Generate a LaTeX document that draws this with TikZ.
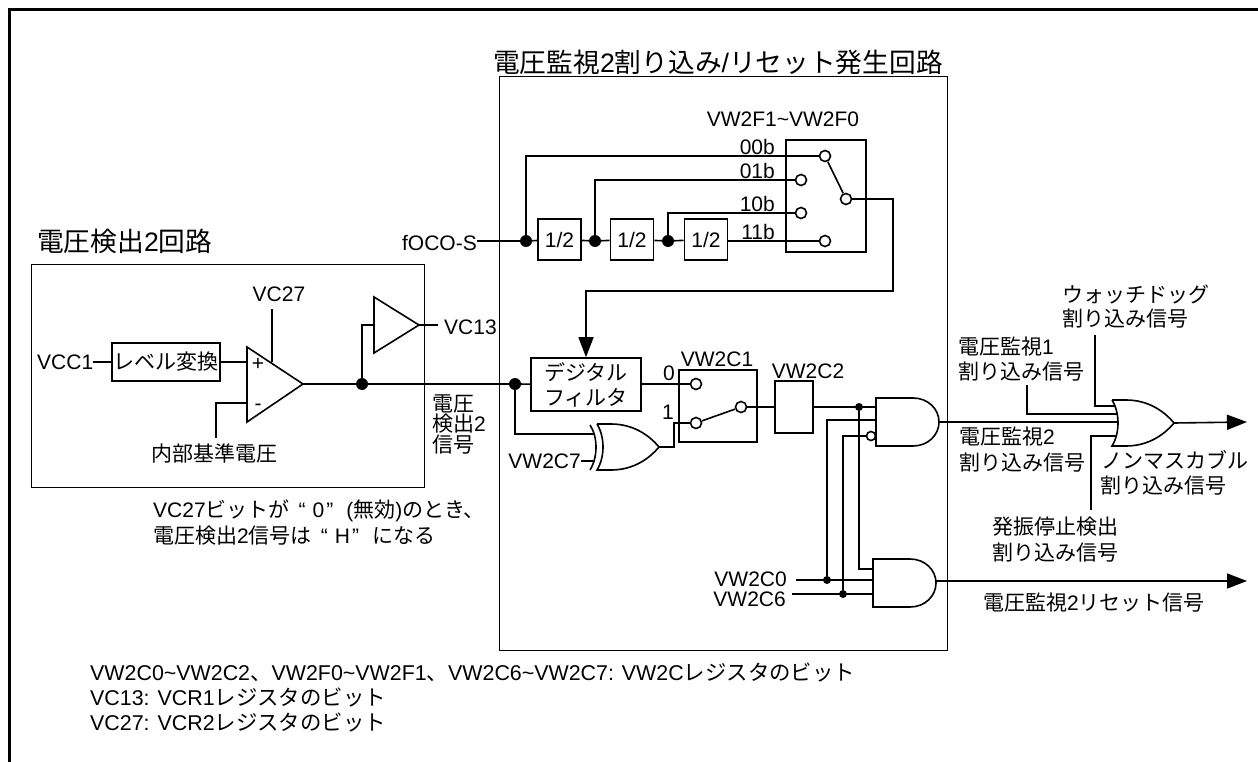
\documentclass[tikz,border=0pt]{standalone}
\usepackage{fontspec}
\setmainfont{Liberation Sans}
\newfontfamily\cjk{Noto Sans CJK JP}
\usetikzlibrary{arrows.meta}
\newcommand{\jp}[1]{{\cjk #1}}
\newcommand{\tld}{\textasciitilde}
\newcommand{\qt}[1]{\hspace{9pt}“\hspace{7pt}#1\hspace{2pt}”\hspace{13pt}}
\tikzset{
  lbl/.style={inner sep=0pt, font=\fontsize{21}{25}\selectfont, align=left},
  notelbl/.style={inner sep=0pt, font=\fontsize{21.4}{25}\selectfont},
  ttl/.style={inner sep=0pt, font=\fontsize{26.7}{31}\selectfont},
  wire/.style={line width=1.6pt},
  thinbox/.style={draw, line width=1pt, inner sep=0pt},
  logicbox/.style={draw, line width=1.6pt, inner sep=0pt, font=\fontsize{21}{25}\selectfont, align=center},
  blackdot/.style={circle, fill=black, inner sep=0pt, minimum size=#1},
  blackdot/.default=12pt,
  contact/.style={circle, draw, line width=1.6pt, fill=white, inner sep=0pt, minimum size=11pt},
  bigarrow/.style={-{Triangle[length=20pt,width=15pt]}},
  andgate/.pic={
    \draw[wire] (0,-24) -- (37,-24) .. controls (52,-24) and (63,-13) .. (63,0)
      .. controls (63,13) and (52,24) .. (37,24) -- (0,24) -- cycle;
    \coordinate (-out) at (63,0);
  },
  orgate/.pic={
    \draw[wire] (0,-23) -- (14,-23) .. controls (36,-23) and (52,-12) .. (62,0)
      .. controls (52,12) and (36,23) .. (14,23) -- (0,23)
      .. controls (8,10) and (8,-10) .. (0,-23);
    \coordinate (-out) at (62,0);
  }
}

\begin{document}
\begin{tikzpicture}[x=1pt, y=-1pt]
\useasboundingbox (0,0) rectangle (1258,762);
\draw[line width=3pt] (9.5,762) -- (9.5,9.5) -- (1258,9.5);
% enclosing blocks
\node[thinbox, minimum width=393pt, minimum height=223pt] (detbox) at (227.5,375.5) {};
\node[thinbox, minimum width=448pt, minimum height=573pt] (monbox) at (723,363.5) {};
\node[ttl, anchor=west] (dettitle) at (37,241) {\jp{電圧検出}2\jp{回路}};
\node[ttl] (montitle) at (718,62) {\jp{電圧監視}2\jp{割り込み}/\jp{リセット発生回路}};

% voltage detection circuit
\node[lbl, anchor=west] (vcc) at (37,362) {VCC1};
\node[logicbox, minimum width=108pt, minimum height=38pt] (level) at (166,362) {\jp{レベル変換}};
\draw[wire] (247,347) -- (303,384) -- (247,422) -- cycle;
\coordinate (opplus) at (247,362);
\coordinate (opminus) at (247,403);
\coordinate (opout) at (303,384);
\coordinate (optop) at (272,362);
\node[lbl] (plus) at (258,364) {+};
\node[lbl] (minus) at (258,407) {-};
\node[lbl] (vc27) at (279,294) {VC27};
\coordinate (vc27end) at (272,309);
\node[lbl] (refv) at (214,453) {\jp{内部基準電圧}};
\coordinate (refend) at (216,438);
\node[blackdot] (opdot) at (362,384) {};
\draw[wire] (374,297) -- (419,325) -- (374,353) -- cycle;
\coordinate (bufin) at (374,325);
\coordinate (bufout) at (419,325);
\coordinate (vc13end) at (438,325);
\node[lbl, anchor=west] (vc13) at (444,327) {VC13};
\node[lbl, anchor=west, font=\fontsize{21}{20.5}\selectfont] (detsig) at (432,424) {\jp{電圧}\\\jp{検出}2\\\jp{信号}};
\draw[wire] (vcc.east) -- (level.west);
\draw[wire] (level.east) -- (opplus);
\draw[wire] (vc27end) -- (optop);
\draw[wire] (opminus) -| (refend);
\draw[wire] (opout) -- (opdot);
\draw[wire] (opdot) |- (bufin);
\draw[wire] (bufout) -- (vc13end);
\node[lbl, anchor=west, font=\fontsize{21}{26}\selectfont] (detnote) at (153,523) {VC27\jp{ビットが}\qt{0}(\jp{無効})\jp{のとき、}\\\jp{電圧検出}2\jp{信号は}\qt{H}\jp{になる}};

% clock divider and selector
\node[lbl, anchor=east] (foco) at (477,243) {fOCO-S};
\node[blackdot] (clk0) at (526,241) {};
\node[logicbox, minimum width=43pt, minimum height=41pt] (div1) at (559.5,239.5) {1/2};
\node[blackdot] (clk1) at (595,241) {};
\node[logicbox, minimum width=43pt, minimum height=41pt] (div2) at (632,239.5) {1/2};
\node[blackdot] (clk2) at (668,241) {};
\node[logicbox, minimum width=43pt, minimum height=41pt] (div3) at (706,239.5) {1/2};
\node[thinbox, line width=1.6pt, minimum width=80pt, minimum height=112pt] (selbox) at (826,196) {};
\node[contact] (sel0) at (825,156) {};
\node[contact] (sel1) at (801,180) {};
\node[contact] (sel2) at (801,213) {};
\node[contact] (sel3) at (825,241) {};
\node[contact] (selout) at (846,199) {};
\node[lbl] (fsel) at (783,119) {VW2F1\tld VW2F0};
\node[lbl, anchor=east] (b00) at (775,147) {00b};
\node[lbl, anchor=east] (b01) at (775,171) {01b};
\node[lbl, anchor=east] (b10) at (775,204) {10b};
\node[lbl, anchor=east] (b11) at (775,232) {11b};
\draw[wire] (foco.east |- clk0) -- (clk0);
\draw[wire] (clk0) -- (div1);
\draw[wire] (div1) -- (clk1);
\draw[wire] (clk1) -- (div2);
\draw[wire] (div2) -- (clk2);
\draw[wire] (clk2) -- (div3);
\draw[wire] (div3.east |- sel3) -- (sel3);
\draw[wire] (clk0) |- (sel0);
\draw[wire] (clk1) |- (sel1);
\draw[wire] (clk2) |- (sel2);
\draw[wire] (sel0) -- (selout);
\coordinate (selbend) at (893,199);
\coordinate (filtbend) at (586,291);

% filter, second selector and gates
\node[logicbox, minimum width=110pt, minimum height=53pt, font=\fontsize{21}{25}\selectfont] (filter) at (586,384.5) {\jp{デジタル}\\\jp{フィルタ}};
\draw[wire, bigarrow] (selout) -- (selbend) |- (filtbend) -- (filter.north);
\node[blackdot] (fdot) at (515,384) {};
\draw[wire] (opdot) -- (fdot);
\draw[wire] (fdot) -- (filter);
\node[thinbox, line width=1.6pt, minimum width=78pt, minimum height=72pt] (c1box) at (718,406) {};
\node[contact] (c1a) at (696,384) {};
\node[contact] (c1b) at (696,423) {};
\node[contact] (c1out) at (741,407) {};
\draw[wire] (c1b) -- (c1out);
\node[lbl] (c1lbl) at (717,359) {VW2C1};
\node[lbl] (c1zero) at (669,373) {0};
\node[lbl] (c1one) at (668,412) {1};
\draw[wire] (filter.east |- c1a) -- (c1a);
\pic (xorg) at (597,447) {orgate};
\draw[wire] (590,425) .. controls (598,437) and (598,457) .. (590,470);
\node[lbl, anchor=east] (c7lbl) at (581,461) {VW2C7};
\coordinate (xorin1) at (595,434);
\coordinate (xorin2) at (595,461);
\draw[wire] (c7lbl.east) -- (xorin2);
\draw[wire] (fdot) |- (xorin1);
\coordinate (xorbend) at (674,447);
\draw[wire] (xorg-out) -- (xorbend) |- (c1b);
\node[thinbox, line width=1.6pt, minimum width=38pt, minimum height=52pt] (c2box) at (794,407) {};
\node[lbl] (c2lbl) at (808,371) {VW2C2};
\draw[wire] (c1out) -- (c2box);
\pic (and1) at (876,422) {andgate};
\pic (and2) at (873,583) {andgate};
\coordinate (a1i1) at (876,407);
\coordinate (a1i2) at (876,420);
\node[circle, draw, line width=1.6pt, inner sep=0pt, minimum size=9pt] (a1i3) at (871,436) {};
\coordinate (a2i1) at (873,569);
\coordinate (a2i2) at (873,580);
\coordinate (a2i3) at (873,594);
\node[blackdot=8pt] (c2dot) at (859,407) {};
\node[blackdot=8pt] (c0dot) at (827,580) {};
\node[blackdot=8pt] (c6dot) at (843,594) {};
\draw[wire] (c2box) -- (a1i1);
\draw[wire] (c2dot) |- (a2i1);
\node[lbl, anchor=east] (c0lbl) at (787,579) {VW2C0};
\node[lbl, anchor=east] (c6lbl) at (786,599) {VW2C6};
\coordinate (c0start) at (796,580);
\coordinate (c6start) at (792,594);
\draw[wire] (c0start) -- (a2i2);
\draw[wire] (c6start) -- (a2i3);
\draw[wire] (c0dot) |- (a1i2);
\draw[wire] (c6dot) |- (a1i3);

% interrupt outputs
\pic (org) at (1112,423) {orgate};
\coordinate (wdtop) at (1095,335);
\coordinate (wdin) at (1115,406);
\coordinate (mon1top) at (1027,385);
\coordinate (mon1in) at (1117,414);
\coordinate (mon2in) at (1118,422);
\coordinate (osctop) at (1091,510);
\coordinate (oscin) at (1116,436);
\coordinate (nmiend) at (1247,422);
\coordinate (rstend) at (1247,581);
\coordinate (and2out) at (936,581);
\draw[wire] (wdtop) |- (wdin);
\draw[wire] (mon1top) |- (mon1in);
\draw[wire] (and1-out) -- (mon2in);
\draw[wire] (osctop) |- (oscin);
\draw[wire, bigarrow] (org-out) -- (nmiend);
\draw[wire, bigarrow] (and2out) -- (rstend);
\node[lbl, anchor=west] (wdlbl) at (1062,294) {\jp{ウォッチドッグ}};
\node[lbl, anchor=west] (wdlbl2) at (1062,319) {\jp{割り込み信号}};
\node[lbl, anchor=west] (m1lbl) at (958,347) {\jp{電圧監視}1};
\node[lbl, anchor=west] (m1lbl2) at (958,372) {\jp{割り込み信号}};
\node[lbl, anchor=west] (m2lbl) at (959,437) {\jp{電圧監視}2};
\node[lbl, anchor=west] (m2lbl2) at (959,463) {\jp{割り込み信号}};
\node[lbl, anchor=west] (nmlbl) at (1101,460) {\jp{ノンマスカブル}};
\node[lbl, anchor=west] (nmlbl2) at (1100,486) {\jp{割り込み信号}};
\node[lbl, anchor=west] (osclbl) at (992,527) {\jp{発振停止検出}};
\node[lbl, anchor=west] (osclbl2) at (992,553) {\jp{割り込み信号}};
\node[lbl, anchor=west] (rstlbl) at (983,603) {\jp{電圧監視}2\jp{リセット信号}};

% register notes
\node[notelbl, anchor=west] (note1) at (90,672) {VW2C0\tld VW2C2\jp{、}VW2F0\tld VW2F1\jp{、}VW2C6\tld VW2C7: VW2C\jp{レジスタのビット}};
\node[notelbl, anchor=west] (note2) at (90,697) {VC13: VCR1\jp{レジスタのビット}};
\node[notelbl, anchor=west] (note3) at (90,722) {VC27: VCR2\jp{レジスタのビット}};
\end{tikzpicture}
\end{document}
